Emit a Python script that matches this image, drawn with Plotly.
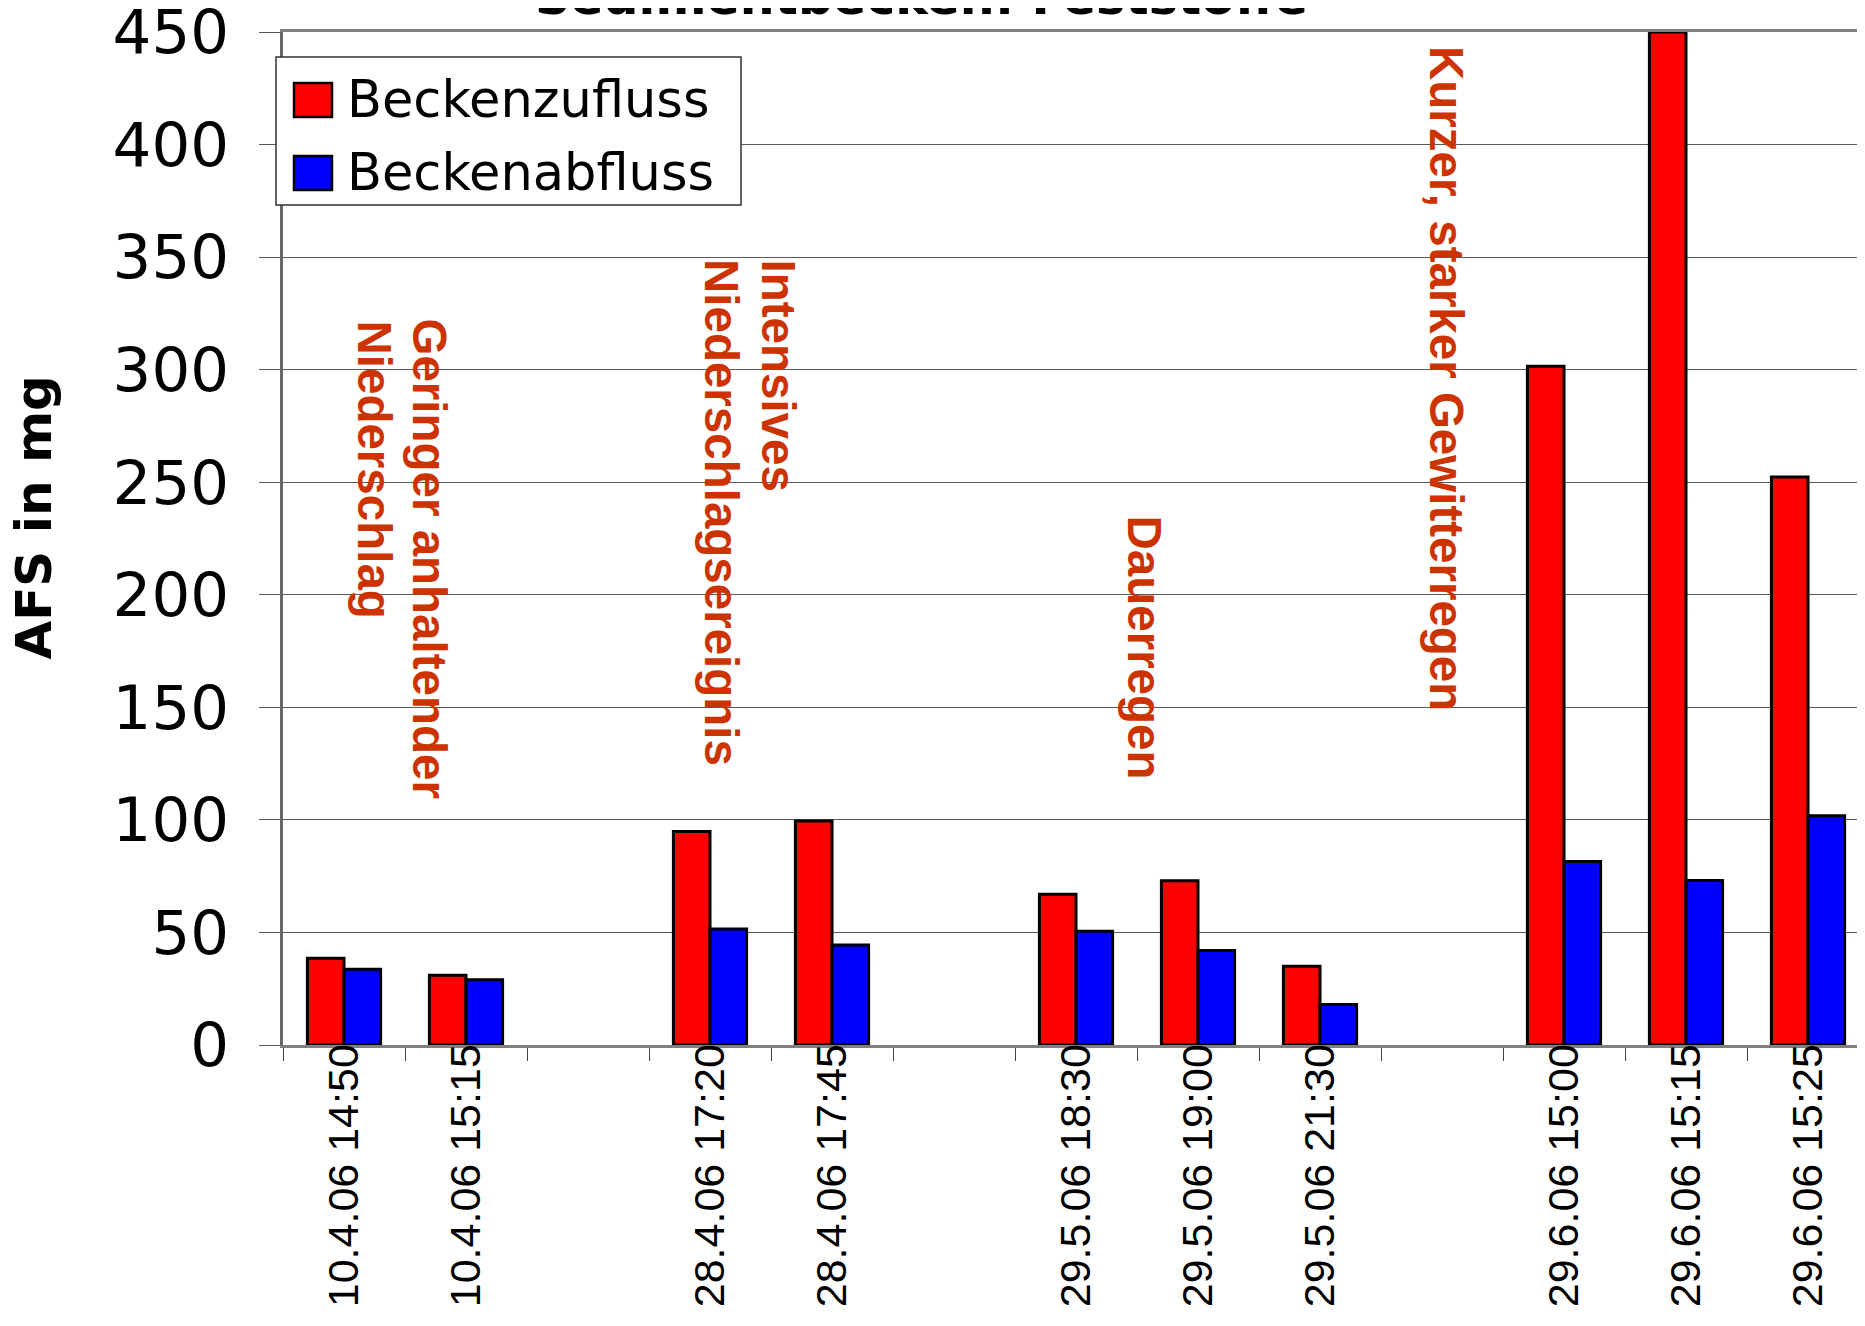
import plotly.graph_objects as go

# ---- data ----
categories = ["10.4.06 14:50", "10.4.06 15:15", " ", "28.4.06 17:20", "28.4.06 17:45", "  ",
              "29.5.06 18:30", "29.5.06 19:00", "29.5.06 21:30", "   ",
              "29.6.06 15:00", "29.6.06 15:15", "29.6.06 15:25"]
zufluss = [38.5, 31.0, None, 94.8, 99.5, None, 67.0, 73.0, 35.0, None, 301.5, 450.0, 252.3]
abfluss = [33.6, 29.0, None, 51.5, 44.4, None, 50.5, 42.0, 18.0, None, 81.5, 73.1, 101.8]
series_names = ["Beckenzufluss", "Beckenabfluss"]
series_colors = ["#FF0000", "#0000FF"]
y_ticks = list(range(0, 451, 50))
title_text = "Sedimentbecken: Feststoffe"
y_title = "AFS in mg"
events = [
    ("Geringer anhaltender", 429.5, 316),
    ("Niederschlag", 374.5, 318),
    ("Intensives", 778.5, 257),
    ("Niederschlagsereignis", 721.5, 257),
    ("Dauerregen", 1144.5, 513),
    ("Kurzer, starker Gewitterregen", 1446.5, 44),
]

# page has an 8px body margin: figure is offset by (8, 8)
OFF = 8
W, H = 1865 - OFF, 1326 - OFF
L, T, B = 283 - OFF, 32 - OFF, 281
PW = W - L
PH = H - T - B


def px_x(px):
    # px is a page pixel
    return (px - OFF - L) / PW


def px_y(py):
    return (H - B - (py - OFF)) / PH


fig = go.Figure()
for name, vals, col in zip(series_names, [zufluss, abfluss], series_colors):
    fig.add_trace(go.Bar(
        x=categories, y=vals, name=name, showlegend=False,
        marker=dict(color=col, line=dict(color="black", width=3)),
    ))

ann = []
# title (mostly cut off at top)
ann.append(dict(text="<b>" + title_text + "</b>", xref="paper", yref="paper",
                x=px_x(921), y=px_y(28), xanchor="center", yanchor="bottom",
                showarrow=False, font=dict(family="DejaVu Sans", size=49, color="black")))
# y-axis title
ann.append(dict(text="<b>" + y_title + "</b>", xref="paper", yref="paper",
                x=px_x(33), y=px_y(517.5), xanchor="center", yanchor="middle",
                textangle=-90, showarrow=False,
                font=dict(family="DejaVu Sans", size=50, color="black")))
# event annotations
for txt, cx, ty in events:
    ann.append(dict(text="<b>" + txt + "</b>", xref="paper", yref="paper",
                    x=px_x(cx), y=px_y(ty), xanchor="center", yanchor="top",
                    textangle=90, showarrow=False,
                    font=dict(family="Arial, Liberation Sans", size=47.5, color="#CC3300")))

# custom legend
shapes = [dict(type="rect", xref="paper", yref="paper", layer="above",
               x0=px_x(276), x1=px_x(741), y0=px_y(205), y1=px_y(57),
               fillcolor="white", line=dict(color="#333333", width=1.5))]
legend_rows = [(83, 117, 100), (156, 190, 173)]
for (y0, y1, yc), name, col in zip(legend_rows, series_names, series_colors):
    shapes.append(dict(type="rect", xref="paper", yref="paper", layer="above",
                       x0=px_x(294), x1=px_x(332), y0=px_y(y1), y1=px_y(y0),
                       fillcolor=col, line=dict(color="black", width=2.5)))
    ann.append(dict(text=name, xref="paper", yref="paper", x=px_x(345), y=px_y(yc),
                    xanchor="left", yanchor="middle", showarrow=False,
                    font=dict(family="DejaVu Sans", size=51, color="black")))

fig.update_layout(
    width=W, height=H,
    margin=dict(l=L, r=0, t=T, b=B, pad=0, autoexpand=False),
    paper_bgcolor="white", plot_bgcolor="white",
    barmode="group", bargap=0.4, bargroupgap=0.0,
    showlegend=False,
    annotations=ann, shapes=shapes,
    xaxis=dict(
        type="category", categoryorder="array", categoryarray=categories,
        range=[-0.5, -0.5 + PW / 122.0], automargin=False,
        tickson="boundaries", ticks="outside", ticklen=13, tickwidth=1.2, tickcolor="#444444",
        tickangle=-90, tickfont=dict(family="Arial, Liberation Sans", size=43, color="black"),
        ticklabelstandoff=-21,
        showline=True, linecolor="#808080", linewidth=3, mirror=True,
        showgrid=False, zeroline=False,
    ),
    yaxis=dict(
        range=[0, 450], tickvals=y_ticks, ticktext=[str(v) for v in y_ticks],
        automargin=False, ticklabeloverflow="allow",
        ticks="outside", ticklen=21, tickwidth=1.2, tickcolor="#555555",
        tickfont=dict(family="DejaVu Sans", size=61, color="black"),
        ticklabelstandoff=18,
        showgrid=True, gridcolor="#5a5a5a", gridwidth=1.3,
        showline=True, linecolor="#666666", linewidth=2.5,
        zeroline=False,
    ),
)

fig.write_html("out.html")
